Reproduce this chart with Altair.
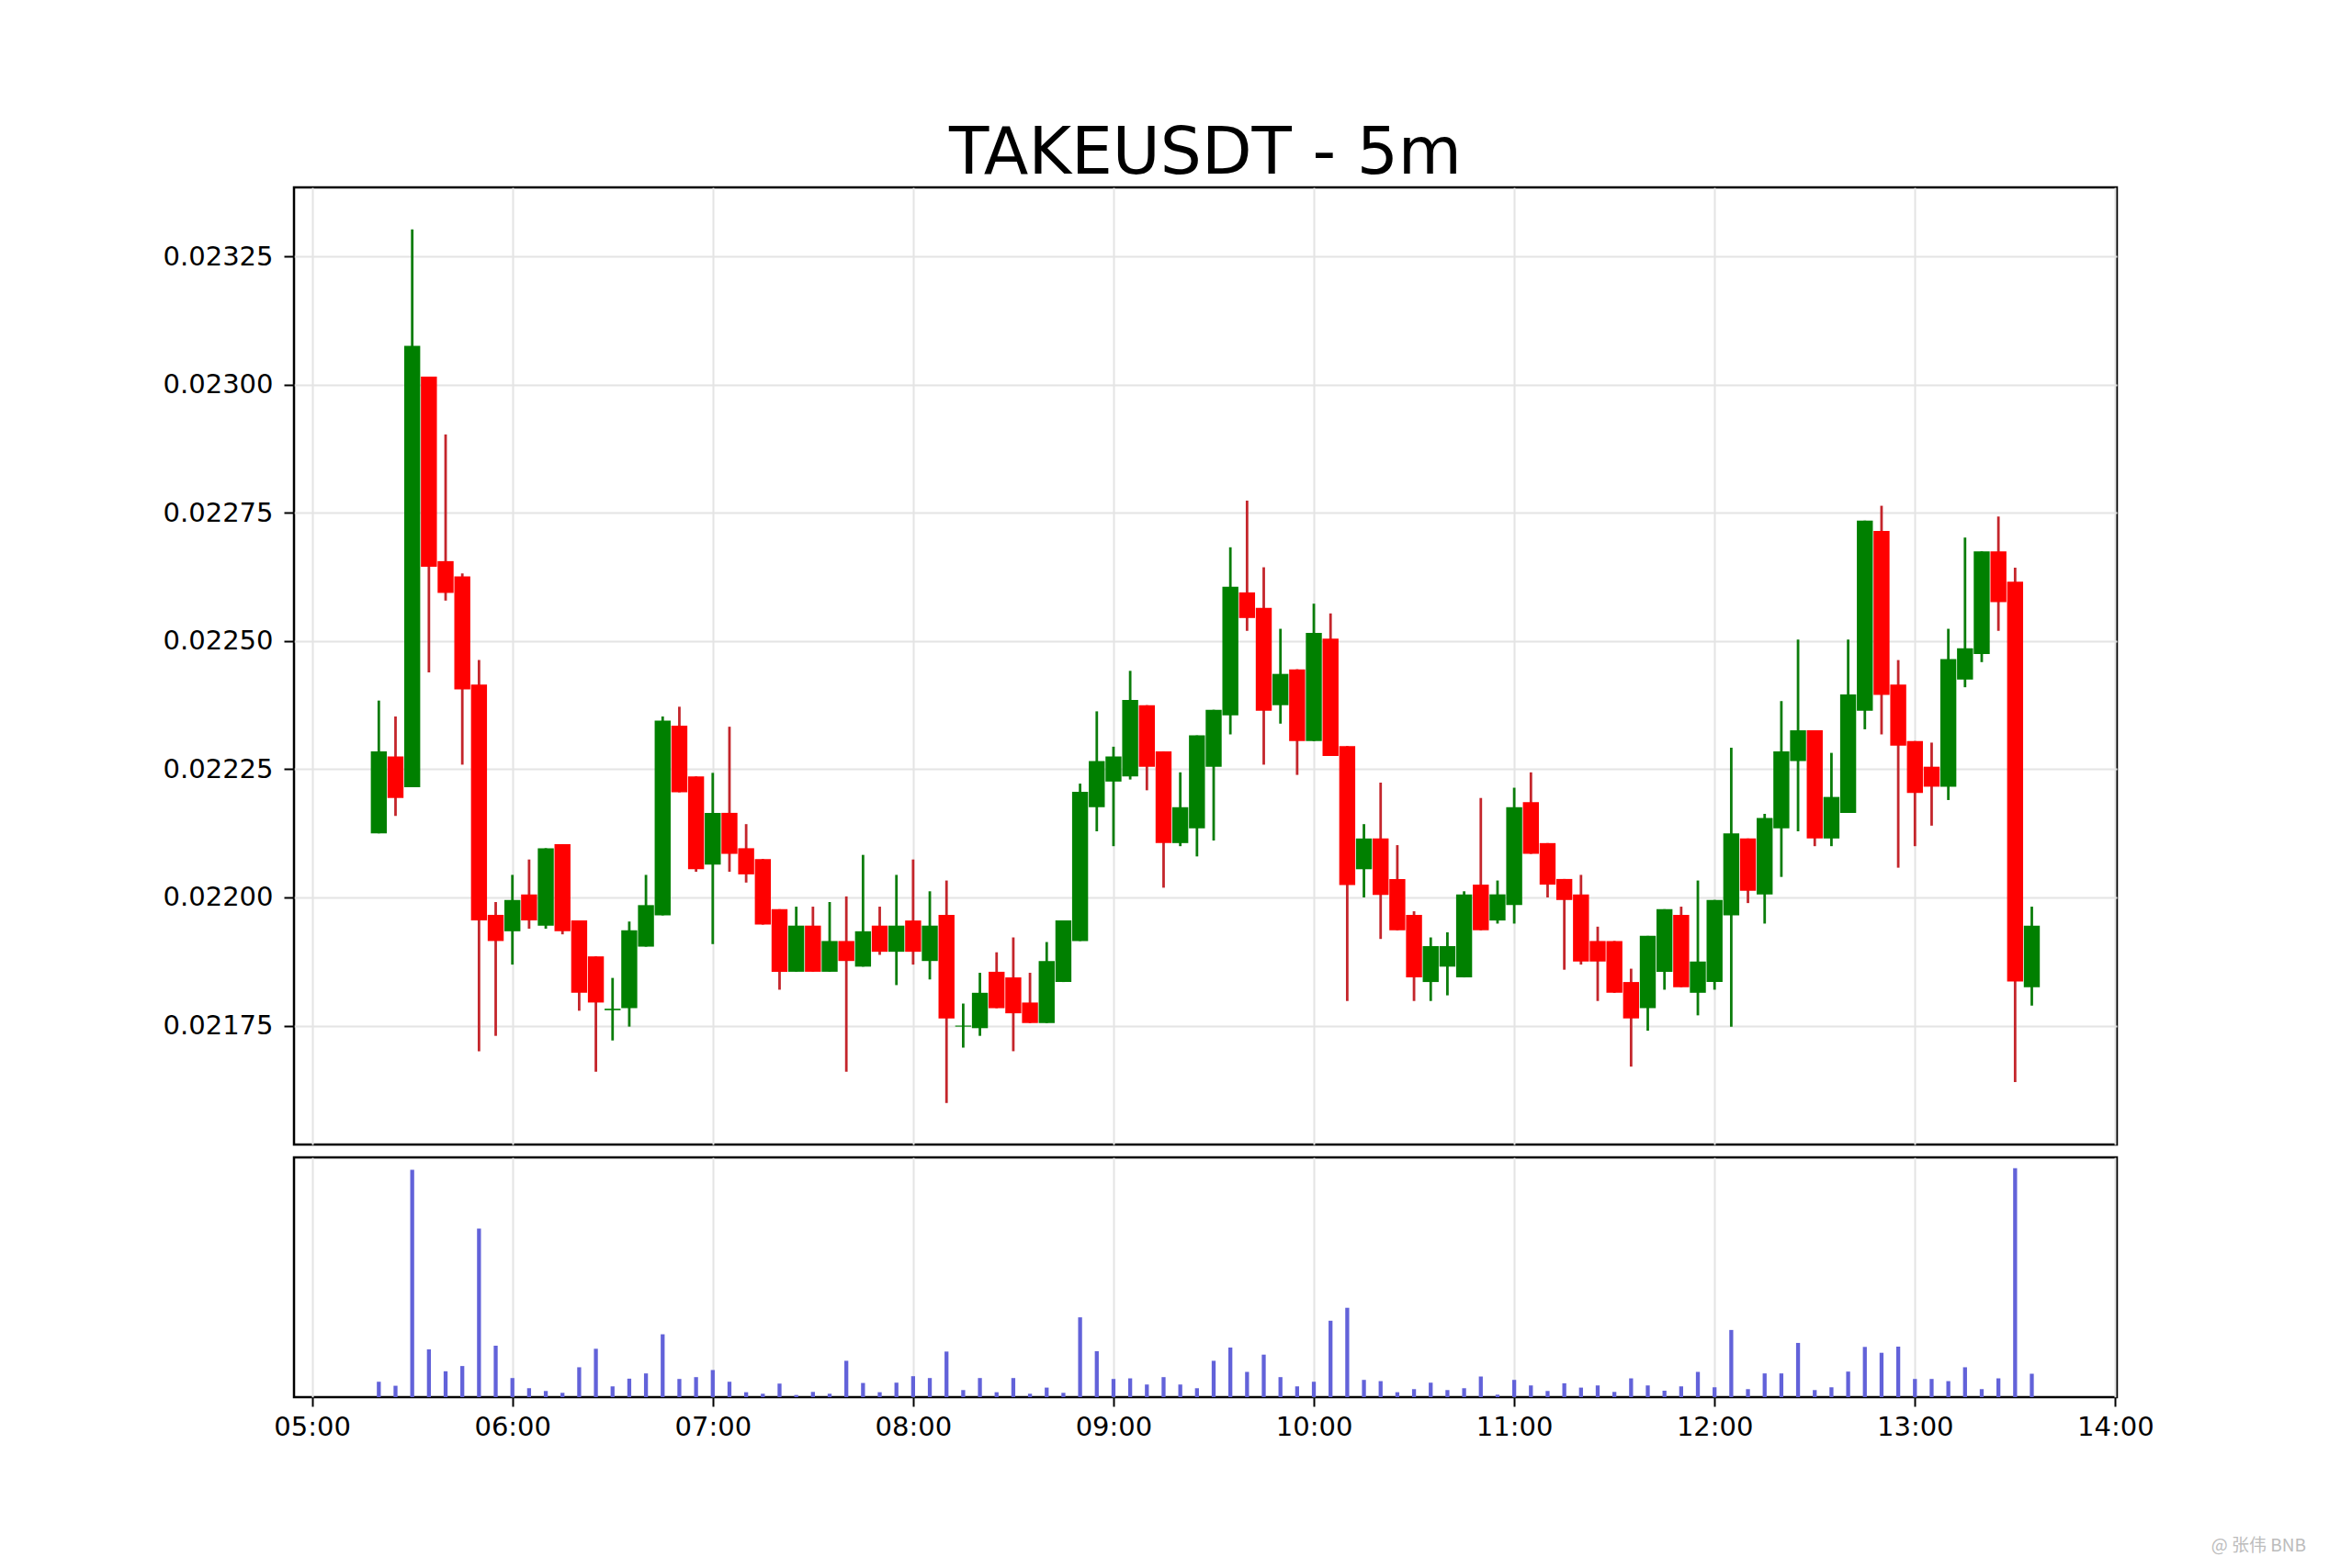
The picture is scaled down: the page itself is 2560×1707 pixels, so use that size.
import altair as alt
import pandas as pd

# ---------------- data ----------------
title_text = "TAKEUSDT - 5m"
watermark_text = "@ 张伟 BNB"

times = [
    "05:20", "05:25", "05:30", "05:35", "05:40", "05:45", "05:50", "05:55",
    "06:00", "06:05", "06:10", "06:15", "06:20", "06:25", "06:30", "06:35", "06:40", "06:45", "06:50", "06:55",
    "07:00", "07:05", "07:10", "07:15", "07:20", "07:25", "07:30", "07:35", "07:40", "07:45", "07:50", "07:55",
    "08:00", "08:05", "08:10", "08:15", "08:20", "08:25", "08:30", "08:35", "08:40", "08:45", "08:50", "08:55",
    "09:00", "09:05", "09:10", "09:15", "09:20", "09:25", "09:30", "09:35", "09:40", "09:45", "09:50", "09:55",
    "10:00", "10:05", "10:10", "10:15", "10:20", "10:25", "10:30", "10:35", "10:40", "10:45", "10:50", "10:55",
    "11:00", "11:05", "11:10", "11:15", "11:20", "11:25", "11:30", "11:35", "11:40", "11:45", "11:50", "11:55",
    "12:00", "12:05", "12:10", "12:15", "12:20", "12:25", "12:30", "12:35", "12:40", "12:45", "12:50", "12:55",
    "13:00", "13:05", "13:10", "13:15", "13:20", "13:25", "13:30", "13:35",
]

opens = [
    0.022125, 0.022275, 0.022215, 0.023016, 0.022656, 0.022626, 0.022415, 0.021966,
    0.021934, 0.022006, 0.021945, 0.022104, 0.021955, 0.021885, 0.021780, 0.021784, 0.021904, 0.021965, 0.022335, 0.022236,
    0.022064, 0.022165, 0.022096, 0.022075, 0.021977, 0.021855, 0.021945, 0.021855, 0.021915, 0.021865, 0.021945, 0.021894,
    0.021955, 0.021876, 0.021966, 0.021748, 0.021745, 0.021855, 0.021844, 0.021795, 0.021755, 0.021835, 0.021915, 0.022176,
    0.022226, 0.022236, 0.022375, 0.022285, 0.022106, 0.022135, 0.022255, 0.022355, 0.022595, 0.022565, 0.022375, 0.022445,
    0.022305, 0.022505, 0.022295, 0.022055, 0.022115, 0.022036, 0.021966, 0.021835, 0.021865, 0.021844, 0.022025, 0.021955,
    0.021985, 0.022186, 0.022106, 0.022036, 0.022006, 0.021915, 0.021915, 0.021835, 0.021784, 0.021855, 0.021966, 0.021814,
    0.021835, 0.021965, 0.022115, 0.022006, 0.022135, 0.022266, 0.022326, 0.022115, 0.022165, 0.022364, 0.022715, 0.022415,
    0.022305, 0.022255, 0.022216, 0.022425, 0.022475, 0.022675, 0.022616, 0.021825,
]

highs = [
    0.022384, 0.022353, 0.023303, 0.023016, 0.022903, 0.022632, 0.022463, 0.021991,
    0.022044, 0.022074, 0.022096, 0.022104, 0.021955, 0.021885, 0.021843, 0.021953, 0.022044, 0.022353, 0.022372, 0.022236,
    0.022243, 0.022333, 0.022143, 0.022075, 0.021977, 0.021982, 0.021982, 0.021991, 0.022002, 0.022083, 0.021982, 0.022044,
    0.022074, 0.022012, 0.022033, 0.021793, 0.021853, 0.021893, 0.021922, 0.021853, 0.021913, 0.021955, 0.022222, 0.022363,
    0.022294, 0.022442, 0.022375, 0.022285, 0.022244, 0.022316, 0.022366, 0.022683, 0.022774, 0.022644, 0.022524, 0.022445,
    0.022573, 0.022554, 0.022295, 0.022143, 0.022224, 0.022102, 0.021973, 0.021922, 0.021932, 0.022012, 0.022194, 0.022033,
    0.022214, 0.022244, 0.022106, 0.022036, 0.022044, 0.021943, 0.021915, 0.021861, 0.021925, 0.021977, 0.021982, 0.022033,
    0.021995, 0.022292, 0.022115, 0.022163, 0.022383, 0.022503, 0.022326, 0.022282, 0.022503, 0.022735, 0.022764, 0.022463,
    0.022305, 0.022302, 0.022524, 0.022702, 0.022675, 0.022743, 0.022643, 0.021982,
]

lows = [
    0.022125, 0.022159, 0.022215, 0.022439, 0.022579, 0.022259, 0.021700, 0.021730,
    0.021869, 0.021939, 0.021939, 0.021928, 0.021779, 0.021660, 0.021721, 0.021748, 0.021904, 0.021965, 0.022205, 0.022050,
    0.021909, 0.022050, 0.022029, 0.021947, 0.021820, 0.021855, 0.021855, 0.021855, 0.021660, 0.021865, 0.021888, 0.021829,
    0.021869, 0.021840, 0.021599, 0.021707, 0.021730, 0.021784, 0.021700, 0.021755, 0.021755, 0.021835, 0.021915, 0.022129,
    0.022100, 0.022230, 0.022209, 0.022019, 0.022100, 0.022080, 0.022111, 0.022318, 0.022520, 0.022259, 0.022339, 0.022239,
    0.022305, 0.022276, 0.021798, 0.022000, 0.021919, 0.021936, 0.021798, 0.021798, 0.021809, 0.021844, 0.021936, 0.021949,
    0.021949, 0.022085, 0.022000, 0.021859, 0.021869, 0.021798, 0.021814, 0.021670, 0.021740, 0.021820, 0.021825, 0.021770,
    0.021820, 0.021748, 0.021989, 0.021949, 0.022040, 0.022129, 0.022100, 0.022100, 0.022165, 0.022328, 0.022318, 0.022058,
    0.022100, 0.022140, 0.022190, 0.022410, 0.022459, 0.022520, 0.021640, 0.021789,
]

closes = [
    0.022285, 0.022194, 0.023076, 0.022645, 0.022594, 0.022406, 0.021955, 0.021915,
    0.021995, 0.021955, 0.022096, 0.021934, 0.021814, 0.021795, 0.021783, 0.021936, 0.021985, 0.022345, 0.022205, 0.022055,
    0.022165, 0.022085, 0.022045, 0.021947, 0.021855, 0.021945, 0.021855, 0.021915, 0.021876, 0.021934, 0.021894, 0.021945,
    0.021894, 0.021945, 0.021764, 0.021750, 0.021814, 0.021784, 0.021774, 0.021755, 0.021876, 0.021955, 0.022206, 0.022266,
    0.022275, 0.022385, 0.022255, 0.022106, 0.022176, 0.022316, 0.022366, 0.022606, 0.022545, 0.022364, 0.022436, 0.022305,
    0.022516, 0.022276, 0.022024, 0.022115, 0.022005, 0.021936, 0.021844, 0.021905, 0.021905, 0.022006, 0.021936, 0.022006,
    0.022176, 0.022085, 0.022025, 0.021995, 0.021875, 0.021875, 0.021814, 0.021764, 0.021925, 0.021977, 0.021825, 0.021875,
    0.021995, 0.022125, 0.022013, 0.022155, 0.022285, 0.022326, 0.022115, 0.022196, 0.022396, 0.022735, 0.022395, 0.022296,
    0.022204, 0.022216, 0.022465, 0.022486, 0.022675, 0.022576, 0.021836, 0.021945,
]

volumes = [
    50, 37, 738, 155, 84, 101, 547, 167,
    62, 29, 20, 14, 97, 157, 35, 60, 77, 204, 59, 65,
    88, 50, 16, 11, 44, 7, 17, 11, 118, 46, 16, 47,
    68, 62, 148, 23, 62, 16, 62, 11, 31, 14, 259, 149,
    59, 61, 41, 65, 41, 29, 118, 161, 82, 138, 65, 35,
    50, 248, 290, 56, 52, 16, 26, 47, 23, 29, 67, 8,
    56, 38, 20, 45, 31, 38, 17, 61, 38, 21, 35, 82,
    32, 218, 26, 77, 77, 176, 23, 32, 83, 163, 144, 164,
    59, 59, 52, 97, 26, 61, 743, 76,
]

hour_ticks = [300, 360, 420, 480, 540, 600, 660, 720, 780, 840]  # minutes after midnight
price_ticks = [0.02175, 0.02200, 0.02225, 0.02250, 0.02275, 0.02300, 0.02325]

# ---------------- table ----------------
df = pd.DataFrame({
    "time": times,
    "open": opens,
    "high": highs,
    "low": lows,
    "close": closes,
    "volume": volumes,
})
df["minute"] = [int(t[:2]) * 60 + int(t[3:]) for t in times]

FONT = "DejaVu Sans"
GRID = "#e4e4e4"
x_domain = [294.6, 840.45]
up_cond = "datum.close >= datum.open"

x_price = alt.X(
    "minute:Q",
    scale=alt.Scale(domain=x_domain, nice=False, zero=False, padding=0),
    axis=alt.Axis(values=hour_ticks, labels=False, ticks=False, domain=False,
                  grid=True, gridColor=GRID, gridWidth=2, title=None),
)

y_scale = alt.Scale(domain=[0.021518, 0.023385], nice=False, zero=False, padding=0)

base = alt.Chart(df)

wicks = base.mark_rule(strokeWidth=2.8).encode(
    x=x_price,
    y=alt.Y("low:Q", scale=y_scale,
            axis=alt.Axis(values=price_ticks, format=".5f", title=None,
                          grid=True, gridColor=GRID, gridWidth=2, domain=False,
                          ticks=True, tickSize=11, tickWidth=2, tickColor="black",
                          labelFont=FONT, labelFontSize=29, labelColor="black",
                          labelPadding=12)),
    y2="high:Q",
    color=alt.condition(up_cond, alt.value("#0b7d0b"), alt.value("#c4252b")),
)

bodies = base.mark_bar(size=17.4).encode(
    x="minute:Q",
    y="open:Q",
    y2="close:Q",
    color=alt.condition(up_cond, alt.value("#008000"), alt.value("#ff0000")),
)

price = alt.layer(wicks, bodies).properties(
    width=1984,
    height=1042,
    title=alt.TitleParams(title_text, font=FONT, fontSize=71, fontWeight="normal",
                          color="black", anchor="middle", frame="group",
                          baseline="alphabetic", offset=-56),
)

x_vol = alt.X(
    "minute:Q",
    scale=alt.Scale(domain=x_domain, nice=False, zero=False, padding=0),
    axis=alt.Axis(values=hour_ticks,
                  labelExpr="(datum.value < 600 ? '0' : '') + floor(datum.value / 60) + ':00'",
                  domain=False, grid=True, gridColor=GRID, gridWidth=2,
                  ticks=True, tickSize=10, tickWidth=2, tickColor="black",
                  labelFont=FONT, labelFontSize=29, labelColor="black",
                  labelPadding=8, labelFlush=False, labelOverlap=False, title=None),
)

vol_bars = alt.Chart(df).mark_bar(size=4.3, color="#6262d9").encode(
    x=x_vol,
    y=alt.Y("volume:Q", scale=alt.Scale(domain=[0, 778], nice=False, padding=0), axis=None),
)

wm = alt.Chart(pd.DataFrame({"t": [watermark_text]})).mark_text(
    align="right", baseline="middle", font="Noto Sans CJK SC", fontSize=19, color="#bcbcbc"
).encode(
    x=alt.value(2190),
    y=alt.value(423),
    text="t:N",
)

volume = alt.layer(vol_bars, wm).properties(width=1984, height=261)

chart = alt.vconcat(price, volume, spacing=10).properties(
    padding={"left": 167, "top": 122, "right": 0, "bottom": 0},
    background="white",
).configure_view(
    stroke="black", strokeWidth=2.5
)

chart.save("out.html", embed_options={"renderer": "svg", "actions": False})
